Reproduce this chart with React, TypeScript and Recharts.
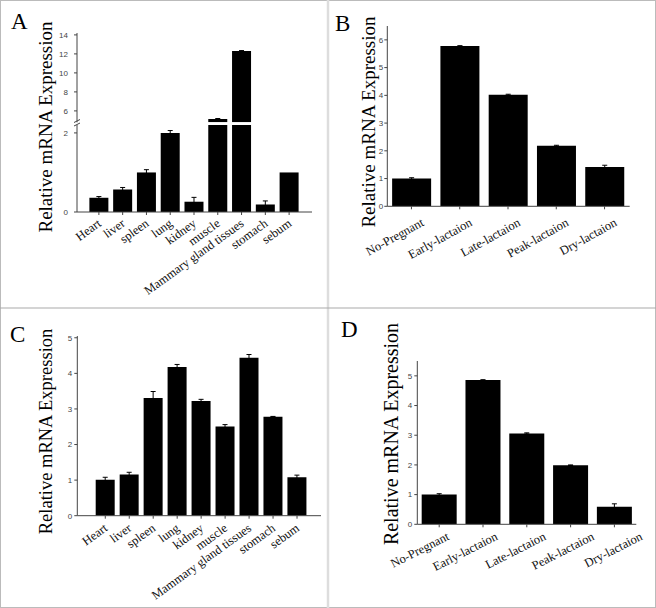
import { Bar, BarChart, ErrorBar, XAxis, YAxis } from "recharts"

const tissues = ["Heart", "liver", "spleen", "lung", "kidney", "muscle", "Mammary gland tissues", "stomach", "sebum"]
const stages = ["No-Pregnant", "Early-lactaion", "Late-lactaion", "Peak-lactaion", "Dry-lactaion"]

// panel A: tissue distribution (broken axis)
const aValues = [0.36, 0.57, 1.0, 2.0, 0.26, 5.15, 12.3, 0.19, 1.0]
const aErrors = [0.03, 0.05, 0.07, 0.06, 0.11, 0.05, 0.05, 0.09, 0]
const aLowTicks = [0, 2]
const aHighTicks = [6, 8, 10, 12, 14]
const aBreakLow = 2.2
const aBreakHigh = 4.8

// panel B: lactation stages
const bValues = [1.0, 5.78, 4.02, 2.18, 1.42]
const bErrors = [0.03, 0.01, 0.02, 0.02, 0.06]
const bTicks = [0, 1, 2, 3, 4, 5, 6]

// panel C: tissue distribution
const cValues = [1.01, 1.16, 3.31, 4.18, 3.22, 2.51, 4.44, 2.78, 1.08]
const cErrors = [0.07, 0.06, 0.18, 0.07, 0.05, 0.05, 0.09, 0.01, 0.06]
const cTicks = [0, 1, 2, 3, 4, 5]

// panel D: lactation stages
const dValues = [1.0, 4.86, 3.06, 1.99, 0.59]
const dErrors = [0.03, 0.01, 0.02, 0.01, 0.1]
const dTicks = [0, 1, 2, 3, 4, 5]

const rows = (names: string[], values: (number | null)[], errors: number[]) =>
  names.map((name, i) => ({ name, value: values[i], err: errors[i] }))

const serif = "'Liberation Serif', 'Times New Roman', serif"
const sans = "'Liberation Sans', Arial, sans-serif"
const axisColor = "#444"

type LabelStyle = { angle: number; dx: number; step: number; dy: number; size: number }

const AngledTick = (props: any) => {
  const { x, y, payload, index, ls } = props
  const px = x + ls.dx + ls.step * (index || 0)
  const py = y + ls.dy
  return (
    <text
      x={px}
      y={py}
      dy="0.7em"
      transform={`rotate(${ls.angle}, ${px}, ${py})`}
      textAnchor="end"
      fontFamily={serif}
      fontSize={ls.size}
      fill="#111"
    >
      {payload.value}
    </text>
  )
}

type Box = { x: number; y: number; w: number; h: number }
type Plot = { l: number; t: number; r: number; b: number }

const YW = 30
const XH = 80

function marginFor(c: Box, p: Plot, xh: number) {
  return {
    left: p.l - c.x - YW,
    top: p.t - c.y,
    right: c.x + c.w - p.r,
    bottom: c.y + c.h - p.b - xh,
  }
}

function Panel(props: {
  box: Box
  plot: Plot
  data: any[]
  domain: [number, number]
  ticks: number[]
  padding: { left: number; right: number }
  ls: LabelStyle
  tickGap: number
  hideX?: boolean
}) {
  const { box, plot, data, domain, ticks, padding, ls, tickGap, hideX } = props
  return (
    <div style={{ position: "absolute", left: box.x, top: box.y }}>
      <BarChart
        width={box.w}
        height={box.h}
        data={data}
        margin={marginFor(box, plot, hideX ? 0 : XH)}
        barCategoryGap="10%"
        style={{ overflow: "visible" }}
      >
        <XAxis
          dataKey="name"
          hide={hideX}
          height={XH}
          interval={0}
          padding={padding}
          tickSize={3}
          tickMargin={0}
          stroke={axisColor}
          tick={(p: any) => <AngledTick {...p} ls={ls} />}
        />
        <YAxis
          width={YW}
          domain={domain}
          ticks={ticks}
          allowDataOverflow
          tickSize={3}
          tickMargin={tickGap}
          stroke={axisColor}
          tick={{ fontSize: 8, fill: "#444", fontFamily: sans }}
        />
        <Bar dataKey="value" fill="#000" isAnimationActive={false}>
          <ErrorBar dataKey="err" width={2.5} stroke="#000" strokeWidth={1} direction="y" />
        </Bar>
      </BarChart>
    </div>
  )
}

const tissueLabels: LabelStyle = { angle: -36, dx: -2, step: 0, dy: 3, size: 12.5 }
const tissueLabelsC: LabelStyle = { angle: -36, dx: -2, step: 0, dy: 4, size: 12.5 }
const stageLabelsB: LabelStyle = { angle: -29, dx: 9, step: 0, dy: 8, size: 12.5 }
const stageLabelsD: LabelStyle = { angle: -27, dx: 7, step: 4.5, dy: 4, size: 12.5 }

export default function App() {
  const aLow = rows(tissues, aValues, aErrors)
  const aHigh = rows(
    tissues,
    aValues.map((v) => (v > aBreakHigh ? v : null)),
    aErrors
  )
  const bData = rows(stages, bValues, bErrors)
  const cData = rows(tissues, cValues, cErrors)
  const dData = rows(stages, dValues, dErrors)
  return (
    <div style={{ position: "absolute", left: 0, top: 0, width: 656, height: 608, background: "#fff", overflow: "hidden" }}>
      <Panel
        box={{ x: 0, y: 110, w: 328, h: 195 }}
        plot={{ l: 77, t: 125, r: 312, b: 212 }}
        data={aLow}
        domain={[0, aBreakLow]}
        ticks={aLowTicks}
        padding={{ left: 10, right: 11 }}
        ls={tissueLabels}
        tickGap={6}
      />
      <Panel
        box={{ x: 0, y: 20, w: 328, h: 110 }}
        plot={{ l: 77, t: 33, r: 312, b: 122.3 }}
        data={aHigh}
        domain={[aBreakHigh, 14.2]}
        ticks={aHighTicks}
        padding={{ left: 10, right: 11 }}
        ls={tissueLabels}
        tickGap={6}
        hideX
      />
      <Panel
        box={{ x: 328, y: 0, w: 328, h: 305 }}
        plot={{ l: 387.3, t: 26, r: 629.7, b: 206.3 }}
        data={bData}
        domain={[0, 6.5]}
        ticks={bTicks}
        padding={{ left: 0, right: 1 }}
        ls={stageLabelsB}
        tickGap={1}
      />
      <Panel
        box={{ x: 0, y: 310, w: 328, h: 298 }}
        plot={{ l: 77.3, t: 336, r: 321, b: 515.7 }}
        data={cData}
        domain={[0, 5.05]}
        ticks={cTicks}
        padding={{ left: 16, right: 12 }}
        ls={tissueLabelsC}
        tickGap={2}
      />
      <Panel
        box={{ x: 328, y: 310, w: 328, h: 298 }}
        plot={{ l: 417.3, t: 361, r: 636.3, b: 524.3 }}
        data={dData}
        domain={[0, 5.5]}
        ticks={dTicks}
        padding={{ left: 0, right: 0 }}
        ls={stageLabelsD}
        tickGap={2}
      />
      <svg
        width={656}
        height={608}
        style={{ position: "absolute", left: 0, top: 0, pointerEvents: "none" }}
      >
        <rect x={0.5} y={0.5} width={655} height={607} fill="none" stroke="#bbb" />
        <line x1={328} y1={0} x2={328} y2={608} stroke="#ddd" strokeWidth={2.5} />
        <line x1={0} y1={308} x2={656} y2={308} stroke="#aaa" strokeWidth={1.2} />
        {/* axis break marks on panel A */}
        <line x1={74} y1={122.5} x2={80} y2={119.5} stroke={axisColor} />
        <line x1={74} y1={126} x2={80} y2={123} stroke={axisColor} />
        <g fontFamily={serif} fill="#000">
          <text x={11} y={28.5} fontSize={23}>A</text>
          <text x={335} y={30.7} fontSize={23}>B</text>
          <text x={10} y={341.7} fontSize={23}>C</text>
          <text x={341} y={336.7} fontSize={23}>D</text>
          <text x={52} y={127} fontSize={19} textAnchor="middle" transform="rotate(-90, 52, 127)">
            Relative mRNA Expression
          </text>
          <text x={374.7} y={122} fontSize={19} textAnchor="middle" transform="rotate(-90, 374.7, 122)">
            Relative mRNA Expression
          </text>
          <text x={51.7} y={431.5} fontSize={18.5} textAnchor="middle" transform="rotate(-90, 51.7, 431.5)">
            Relative mRNA Expression
          </text>
          <text x={398} y={434} fontSize={20} textAnchor="middle" transform="rotate(-90, 398, 434)">
            Relative mRNA Expression
          </text>
        </g>
      </svg>
    </div>
  )
}
